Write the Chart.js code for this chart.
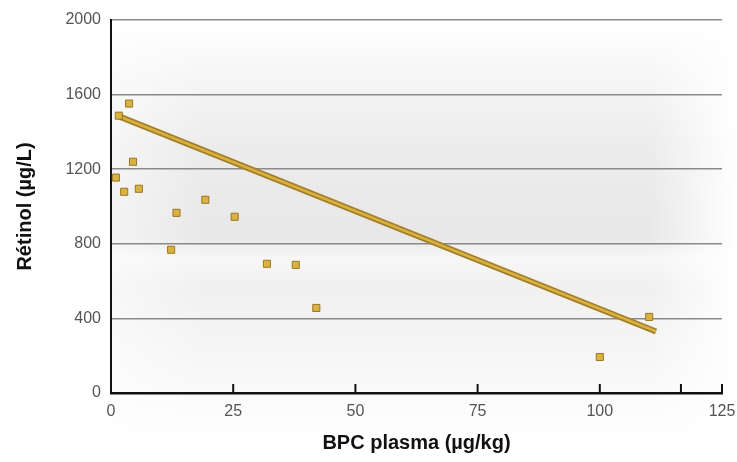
<!DOCTYPE html>
<html>
<head>
<meta charset="utf-8">
<script src="https://cdn.jsdelivr.net/npm/chart.js@4/dist/chart.umd.min.js"></script>
<style>
  html, body { margin: 0; padding: 0; background: #fff; }
  #wrap { width: 737px; height: 462px; position: relative; }
</style>
</head>
<body>
<div id="wrap"><canvas id="chart"></canvas></div>
<script>
// BPC plasma (µg/kg) vs rétinol (µg/L)
const bpcPlasma = [1, 1.6, 3.7, 4.5, 2.7, 5.7, 13.4, 19.3, 25.3, 12.3, 31.9, 37.8, 42, 100, 110.1]
const retinol = [1155, 1487, 1552, 1240, 1079, 1095, 966, 1036, 945, 768, 693, 687, 456, 193, 408]

// regression line end points
const trendX = [1, 111.5]
const trendY = [1490, 330]

const xTicks = [0, 25, 50, 75, 100, 125]
const xExtraTickMarks = [116.6] // unlabelled tick mark seen on the original axis
const yTicks = [0, 400, 800, 1200, 1600, 2000]

const gold = '#dab240'
const goldDark = '#a4802c'
const fontFamily = '"Liberation Sans", Arial, Helvetica, sans-serif'

// Hazy photo-like backdrop behind the plot
const backdrop = {
  id: 'backdrop',
  beforeDraw(chart) {
    const { ctx, chartArea: a } = chart
    ctx.save()
    ctx.fillStyle = '#fff'
    ctx.fillRect(0, 0, chart.width, chart.height)

    const v = ctx.createLinearGradient(0, a.top, 0, a.bottom + 45)
    v.addColorStop(0, 'rgba(255,255,255,1)')
    v.addColorStop(0.1, 'rgba(248,248,248,1)')
    v.addColorStop(0.3, 'rgba(236,236,236,1)')
    v.addColorStop(0.52, 'rgba(232,232,232,1)')
    v.addColorStop(0.57, 'rgba(247,247,247,1)')
    v.addColorStop(0.64, 'rgba(240,240,240,1)')
    v.addColorStop(0.85, 'rgba(248,248,248,1)')
    v.addColorStop(1, 'rgba(255,255,255,1)')
    ctx.fillStyle = v
    ctx.fillRect(a.left, a.top + 10, a.right - a.left + 15, a.bottom - a.top + 35)

    // fade to white on the right and left edges
    const h = ctx.createLinearGradient(a.left, 0, a.right + 15, 0)
    h.addColorStop(0, 'rgba(255,255,255,0.5)')
    h.addColorStop(0.15, 'rgba(255,255,255,0)')
    h.addColorStop(0.86, 'rgba(255,255,255,0)')
    h.addColorStop(1, 'rgba(255,255,255,1)')
    ctx.fillStyle = h
    ctx.fillRect(a.left, a.top + 10, a.right - a.left + 15, a.bottom - a.top + 35)
    ctx.restore()
  }
}

// Tick marks on the x axis point up into the plot
const upTicks = {
  id: 'upTicks',
  afterDatasetsDraw(chart) {
    const { ctx, scales: { x }, chartArea: a } = chart
    ctx.save()
    ctx.strokeStyle = '#111'
    ctx.lineWidth = 2
    const marks = x.ticks.map(t => t.value).concat(xExtraTickMarks)
    marks.forEach(val => {
      if (val === 0) return
      const px = x.getPixelForValue(val)
      ctx.beginPath()
      ctx.moveTo(px, a.bottom)
      ctx.lineTo(px, a.bottom - 9)
      ctx.stroke()
    })
    ctx.restore()
  }
}

const config = {
  type: 'scatter',
  data: {
    datasets: [
      {
        type: 'line',
        data: trendX.map((x, i) => ({ x: x, y: trendY[i] })),
        borderColor: goldDark,
        borderWidth: 6,
        pointRadius: 0,
        order: 3
      },
      {
        type: 'line',
        data: trendX.map((x, i) => ({ x: x, y: trendY[i] })),
        borderColor: gold,
        borderWidth: 2.5,
        pointRadius: 0,
        order: 2
      },
      {
        data: bpcPlasma.map((x, i) => ({ x: x, y: retinol[i] })),
        pointStyle: 'rect',
        pointRadius: 5,
        backgroundColor: gold,
        borderColor: '#9a7624',
        borderWidth: 1,
        order: 1
      }
    ]
  },
  options: {
    responsive: true,
    maintainAspectRatio: false,
    animation: false,
    layout: {
      padding: { top: 20, right: 15, left: 0, bottom: 0 }
    },
    plugins: {
      legend: { display: false },
      tooltip: { enabled: false }
    },
    scales: {
      x: {
        type: 'linear',
        min: 0,
        max: 125,
        afterBuildTicks: s => { s.ticks = xTicks.map(v => ({ value: v })) },
        afterFit: s => { s.height = 69; s.paddingRight = 0; s.paddingLeft = 0 },
        grid: { display: false, drawTicks: false },
        border: { display: true, color: '#111', width: 2.5 },
        ticks: {
          color: '#555',
          padding: 9,
          font: { family: fontFamily, size: 16 },
          callback: v => String(v)
        },
        title: {
          display: true,
          text: 'BPC plasma (µg/kg)',
          color: '#111',
          padding: { top: 4, bottom: 7 },
          font: { family: fontFamily, size: 20, weight: 'bold' }
        }
      },
      y: {
        min: 0,
        max: 2000,
        afterBuildTicks: s => { s.ticks = yTicks.map(v => ({ value: v })) },
        afterFit: s => { s.width = 111 },
        grid: {
          color: ctx => ctx.tick && ctx.tick.value === 0 ? 'rgba(0,0,0,0)' : '#8a8a8a',
          lineWidth: 1.5,
          drawTicks: false
        },
        border: { display: true, color: '#111', width: 2 },
        ticks: {
          color: '#555',
          padding: 10,
          font: { family: fontFamily, size: 16 },
          callback: v => String(v)
        },
        title: {
          display: true,
          text: 'Rétinol (µg/L)',
          color: '#111',
          padding: { top: 13, bottom: 0 },
          font: { family: fontFamily, size: 20, weight: 'bold' }
        }
      }
    }
  },
  plugins: [backdrop, upTicks]
}

new Chart(document.getElementById('chart'), config)
</script>
</body>
</html>
